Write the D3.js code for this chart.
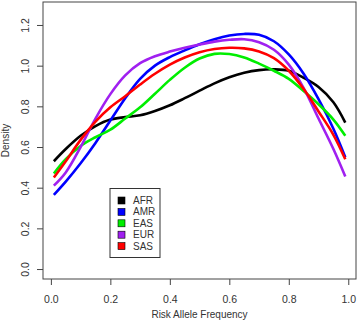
<!DOCTYPE html>
<html>
<head>
<meta charset="utf-8">
<script src="https://cdn.jsdelivr.net/npm/d3@7"></script>
<style>
  body { margin: 0; background: #fff; }
  svg text { font-family: "Liberation Sans", Arial, sans-serif; fill: #333; }
</style>
</head>
<body>
<div id="chart"></div>
<script>
// Risk allele frequency density curves

const freq = [0.01, 0.05, 0.1, 0.15, 0.2, 0.25, 0.3, 0.35, 0.4, 0.45, 0.5,
              0.55, 0.6, 0.65, 0.7, 0.75, 0.8, 0.85, 0.9, 0.95, 0.99];

const afr = [0.53, 0.59, 0.655, 0.703, 0.735, 0.747, 0.756, 0.777, 0.805, 0.84, 0.877,
             0.913, 0.943, 0.965, 0.978, 0.982, 0.975, 0.94, 0.895, 0.82, 0.72];
const amr = [0.365, 0.43, 0.52, 0.62, 0.73, 0.84, 0.935, 1.0, 1.042, 1.075, 1.105,
             1.13, 1.148, 1.156, 1.152, 1.12, 1.055, 0.96, 0.835, 0.69, 0.55];
const eas = [0.47, 0.54, 0.605, 0.648, 0.685, 0.74, 0.795, 0.862, 0.93, 0.99, 1.035,
             1.058, 1.057, 1.04, 1.01, 0.975, 0.935, 0.875, 0.81, 0.735, 0.655];
const eur = [0.41, 0.475, 0.60, 0.74, 0.86, 0.952, 1.012, 1.046, 1.069, 1.088, 1.104,
             1.118, 1.127, 1.13, 1.115, 1.078, 1.005, 0.89, 0.74, 0.59, 0.455];
const sas = [0.45, 0.53, 0.635, 0.725, 0.795, 0.85, 0.907, 0.96, 1.005, 1.04, 1.066,
             1.082, 1.088, 1.085, 1.07, 1.037, 0.975, 0.885, 0.775, 0.66, 0.54];

const groups = ["AFR", "AMR", "EAS", "EUR", "SAS"];
const colors = ["#000000", "#0000ff", "#00ee00", "#a020f0", "#ff0000"];
const seriesValues = [afr, amr, eas, eur, sas];

const xTicks = [0, 0.2, 0.4, 0.6, 0.8, 1.0];
const yTicks = [0, 0.2, 0.4, 0.6, 0.8, 1.0, 1.2];

const W = 358, H = 323;
const margin = { top: 2, right: 2, bottom: 44, left: 43 };
const width = W - margin.left - margin.right,
      height = H - margin.top - margin.bottom;

const svg = d3.select("#chart").append("svg")
    .attr("width", W)
    .attr("height", H);

const g = svg.append("g")
    .attr("transform", "translate(" + margin.left + "," + margin.top + ")");

const xScale = d3.scaleLinear().domain([-0.0265, 1.026]).range([0, width]);
const yScale = d3.scaleLinear().domain([-0.049, 1.313]).range([height, 0]);

// axes
const xAxis = d3.axisBottom(xScale).tickValues(xTicks).tickFormat(d3.format(".1f")).tickSize(6).tickPadding(5);
const yAxis = d3.axisLeft(yScale).tickValues(yTicks).tickFormat(d3.format(".1f")).tickSize(6).tickPadding(5);

const gx = g.append("g").attr("transform", "translate(0," + height + ")").call(xAxis);
gx.select(".domain").remove();
gx.selectAll(".tick line").attr("stroke", "#444");
gx.selectAll(".tick text").attr("font-size", "10.5px").attr("dy", "1.2em");

const gy = g.append("g").call(yAxis);
gy.select(".domain").remove();
gy.selectAll(".tick line").attr("stroke", "#444");
gy.selectAll(".tick text")
    .attr("font-size", "10.5px")
    .attr("text-anchor", "middle")
    .attr("x", null)
    .attr("transform", "translate(-18,0) rotate(-90)")
    .attr("dy", "0.35em");

// frame
g.append("rect")
    .attr("width", width)
    .attr("height", height)
    .attr("fill", "none")
    .attr("stroke", "#444")
    .attr("stroke-width", 1);

// axis titles
g.append("text")
    .attr("x", width / 2)
    .attr("y", height + 39)
    .attr("text-anchor", "middle")
    .attr("font-size", "10px")
    .text("Risk Allele Frequency");

g.append("text")
    .attr("transform", "rotate(-90)")
    .attr("x", -height / 2)
    .attr("y", -34)
    .attr("text-anchor", "middle")
    .attr("font-size", "10px")
    .text("Density");

// curves
const line = d3.line()
    .x((d, i) => xScale(freq[i]))
    .y(d => yScale(d))
    .curve(d3.curveCatmullRom.alpha(0.5));

g.selectAll(".curve")
    .data(seriesValues)
    .enter()
    .append("path")
    .attr("class", "curve")
    .attr("d", line)
    .attr("fill", "none")
    .attr("stroke", (d, i) => colors[i])
    .attr("stroke-width", 2.6);

// legend
const legend = g.append("g").attr("transform", "translate(" + (110 - margin.left) + "," + (188.5 - margin.top) + ")");
legend.append("rect")
    .attr("width", 50)
    .attr("height", 69)
    .attr("fill", "#fff")
    .attr("stroke", "#333")
    .attr("stroke-width", 1);

const items = legend.selectAll(".item")
    .data(groups)
    .enter()
    .append("g")
    .attr("class", "item")
    .attr("transform", (d, i) => "translate(0," + (12 + i * 11.4) + ")");

items.append("rect")
    .attr("x", 8)
    .attr("y", -3.5)
    .attr("width", 7)
    .attr("height", 7)
    .attr("fill", (d, i) => colors[i])
    .attr("stroke", "#000")
    .attr("stroke-width", 0.6);

items.append("text")
    .attr("x", 23)
    .attr("dy", "0.35em")
    .attr("font-size", "10px")
    .text(d => d);
</script>
</body>
</html>
